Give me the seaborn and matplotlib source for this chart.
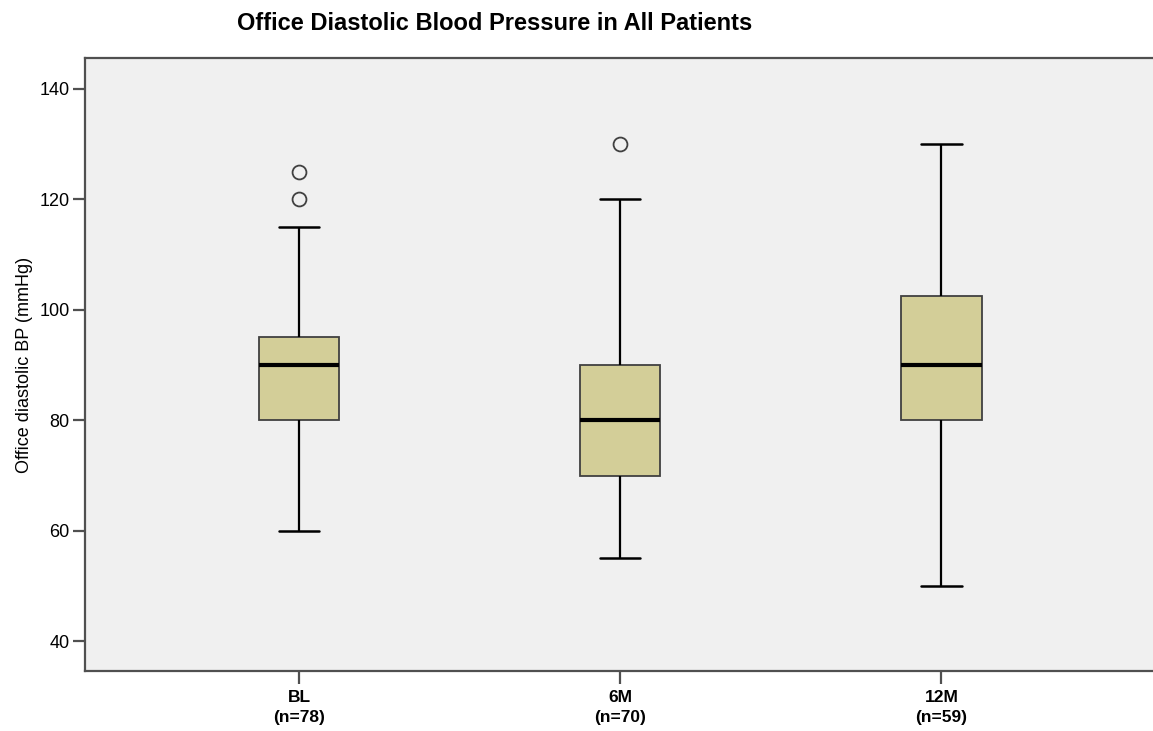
import numpy as np
import pandas as pd
import matplotlib
matplotlib.use("Agg")
import matplotlib.pyplot as plt
import seaborn as sns

# ---- data ----
groups = ["BL", "6M", "12M"]
n_counts = [78, 70, 59]
whisker_low = [60, 55, 50]
q1 = [80, 70, 80]
median = [90, 80, 90]
q3 = [95, 90, 102.5]
whisker_high = [115, 120, 130]
outlier_group = ["BL", "BL", "6M"]
outlier_value = [120, 125, 130]

tick_labels = [f"{g}\n(n={n})" for g, n in zip(groups, n_counts)]

# long-form table: five summary points per group (min, q1, median, q3, max)
rows = []
for g, lo, a, m, b, hi in zip(groups, whisker_low, q1, median, q3, whisker_high):
    for v in (lo, a, m, b, hi):
        rows.append({"group": g, "value": v})
df = pd.DataFrame(rows)
out_df = pd.DataFrame({"group": outlier_group, "value": outlier_value})

sns.set_theme(style="ticks")
plt.rcParams["font.family"] = ["Liberation Sans", "DejaVu Sans"]
plt.rcParams["text.color"] = "black"
plt.rcParams["axes.labelcolor"] = "black"
plt.rcParams["xtick.labelcolor"] = "black"
plt.rcParams["ytick.labelcolor"] = "black"

BG = "#F0F0F0"
BOX = "#D3CE98"
SPINE = "#505050"

fig = plt.figure(figsize=(11.53, 7.31), dpi=100)
ax = fig.add_axes([85 / 1153, 60 / 731, (1165 - 85) / 1153, (671 - 58) / 731])
ax.set_facecolor(BG)

sns.boxplot(
    data=df, x="group", y="value", order=groups, ax=ax,
    whis=(0, 100), width=0.25, color=BOX, saturation=1, showfliers=False,
    linecolor="black", linewidth=1.5,
    boxprops=dict(edgecolor="#404040", linewidth=1.3),
    medianprops=dict(color="black", linewidth=3),
    whiskerprops=dict(color="black", linewidth=1.6),
    capprops=dict(color="black", linewidth=1.8),
)
sns.stripplot(
    data=out_df, x="group", y="value", order=groups, ax=ax,
    jitter=False, color=BG, edgecolor="#404040", linewidth=1.3, size=10,
)

ax.set_xlim(-0.667, 2.696)
ax.set_ylim(34.6, 145.6)
ax.set_yticks([40, 60, 80, 100, 120, 140])
ax.set_xticks(range(len(groups)))
ax.set_xticklabels(tick_labels, fontweight="bold", fontsize=12.5, linespacing=1.4)
ax.tick_params(axis="y", labelsize=13, length=9, width=1.6, color=SPINE, pad=2)
ax.tick_params(axis="x", length=9, width=1.6, color=SPINE, pad=5)
ax.set_xlabel("")
ax.set_ylabel("Office diastolic BP (mmHg)", fontsize=13, labelpad=5)

for s in ["left", "bottom", "top", "right"]:
    ax.spines[s].set_visible(True)
    ax.spines[s].set_color(SPINE)
    ax.spines[s].set_linewidth(1.6)

fig.text(495 / 1153, 1 - 24 / 731, "Office Diastolic Blood Pressure in All Patients",
         ha="center", va="center", fontsize=17, fontweight="bold", color="black")

fig.savefig("out.png", dpi=100)
